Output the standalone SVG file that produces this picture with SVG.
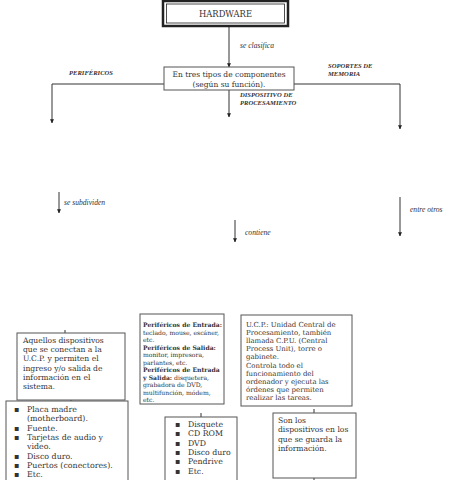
<svg xmlns="http://www.w3.org/2000/svg" width="449" height="480" viewBox="0 0 449 480">
<style>
.box{fill:#fff;stroke:#555;stroke-width:1}
.t{font-family:"DejaVu Serif","Liberation Serif",serif;fill:#333}
.lbl{font-family:"Liberation Serif","Times New Roman",serif;font-style:italic;fill:#333;font-size:7.6px}
.cap{font-family:"Liberation Serif","Times New Roman",serif;font-style:italic;font-weight:bold;fill:#333;font-size:6.6px}
.ln{stroke:#333;stroke-width:1;fill:none}
.b{font-weight:bold}
</style>
<defs>
<marker id="ah" viewBox="0 0 6 6" refX="5.5" refY="3" markerWidth="4" markerHeight="4" orient="auto">
<path d="M0,0 L6,3 L0,6 Z" fill="#222"/>
</marker>
</defs>
<rect width="449" height="480" fill="#fff"/>
<g id="connectors">
<line class="ln" x1="229" y1="26" x2="229" y2="67" marker-end="url(#ah)"/>
<polyline class="ln" points="164,84 52,84 52,123" marker-end="url(#ah)"/>
<polyline class="ln" points="294,84 400,84 400,129" marker-end="url(#ah)"/>
<line class="ln" x1="229" y1="90" x2="229" y2="117" marker-end="url(#ah)"/>
<line class="ln" x1="59" y1="192" x2="59" y2="213" marker-end="url(#ah)"/>
<line class="ln" x1="235" y1="220" x2="235" y2="242" marker-end="url(#ah)"/>
<line class="ln" x1="400" y1="197" x2="400" y2="236" marker-end="url(#ah)"/>
<line class="ln" x1="65" y1="330" x2="65" y2="333"/>
<line class="ln" x1="71" y1="398" x2="71" y2="401"/>
<line class="ln" x1="201" y1="413" x2="201" y2="417"/>
<line class="ln" x1="314" y1="409" x2="314" y2="413"/>
<line class="ln" x1="314" y1="478" x2="314" y2="481"/>
</g>
<g id="labels">
<text class="lbl" x="240" y="48">se clasifica</text>
<text class="cap" x="69" y="75">PERIFÉRICOS</text>
<text class="cap" x="328" y="68">SOPORTES DE</text>
<text class="cap" x="328" y="76">MEMORIA</text>
<text class="cap" x="240" y="97">DISPOSITIVO DE</text>
<text class="cap" x="240" y="105">PROCESAMIENTO</text>
<text class="lbl" x="64" y="205">se subdividen</text>
<text class="lbl" x="245" y="235">contiene</text>
<text class="lbl" x="410" y="212">entre otros</text>
</g>
<g id="hardware">
<rect x="163" y="1" width="125" height="25" fill="#fff" stroke="#222" stroke-width="2.5"/>
<rect x="166.5" y="4" width="118" height="19" fill="none" stroke="#222" stroke-width="0.8"/>
<text class="t" x="225.5" y="17" font-size="8.4" text-anchor="middle">HARDWARE</text>
</g>
<g id="tipos">
<rect class="box" x="164" y="67" width="130" height="23"/>
<text class="t" x="229" y="77" font-size="7.5" text-anchor="middle">En tres tipos de componentes</text>
<text class="t" x="229" y="87" font-size="7.5" text-anchor="middle">(según su función).</text>
</g>
<g id="perifericos-def">
<rect class="box" x="17" y="333" width="108" height="67"/>
<text class="t" font-size="7.6"><tspan x="23" y="343">Aquellos dispositivos</tspan><tspan x="23" y="352.2">que se conectan a la</tspan><tspan x="23" y="361.4">U.C.P. y permiten el</tspan><tspan x="23" y="370.6">ingreso y/o salida de</tspan><tspan x="23" y="379.8">información en el</tspan><tspan x="23" y="389">sistema.</tspan></text>
</g>
<g id="perifericos-tipos">
<rect class="box" x="140" y="314" width="84" height="90"/>
<text class="t" font-size="6.1"><tspan x="143" y="327" class="b">Periféricos de Entrada:</tspan><tspan x="143" y="334.5">teclado, mouse, escáner,</tspan><tspan x="143" y="342">etc.</tspan><tspan x="143" y="349.5" class="b">Periféricos de Salida:</tspan><tspan x="143" y="357">monitor, impresora,</tspan><tspan x="143" y="364.5">parlantes, etc.</tspan><tspan x="143" y="372" class="b">Periféricos de Entrada</tspan><tspan x="143" y="379.5" class="b">y Salida:</tspan><tspan> disquetera,</tspan><tspan x="143" y="387">grabadora de DVD,</tspan><tspan x="143" y="394.5">multifunción, módem,</tspan><tspan x="143" y="402">etc.</tspan></text>
</g>
<g id="ucp">
<rect class="box" x="241" y="315" width="111" height="91"/>
<text class="t" font-size="6.95"><tspan x="246" y="327">U.C.P.: Unidad Central de</tspan><tspan x="246" y="335.1">Procesamiento, también</tspan><tspan x="246" y="343.2">llamada C.P.U. (Central</tspan><tspan x="246" y="351.3">Process Unit), torre o</tspan><tspan x="246" y="359.4">gabinete.</tspan><tspan x="246" y="367.5">Controla todo el</tspan><tspan x="246" y="375.6">funcionamiento del</tspan><tspan x="246" y="383.7">ordenador y ejecuta las</tspan><tspan x="246" y="391.8">órdenes que permiten</tspan><tspan x="246" y="399.9">realizar las tareas.</tspan></text>
</g>
<g id="componentes">
<rect class="box" x="6" y="401" width="122" height="82"/>
<text class="t" font-size="7.9"><tspan x="14" y="412">▪</tspan><tspan x="27" y="412">Placa madre</tspan><tspan x="27" y="421.3">(motherboard).</tspan><tspan x="14" y="430.6">▪</tspan><tspan x="27" y="430.6">Fuente.</tspan><tspan x="14" y="439.9">▪</tspan><tspan x="27" y="439.9">Tarjetas de audio y</tspan><tspan x="27" y="449.2">video.</tspan><tspan x="14" y="458.5">▪</tspan><tspan x="27" y="458.5">Disco duro.</tspan><tspan x="14" y="467.8">▪</tspan><tspan x="27" y="467.8">Puertos (conectores).</tspan><tspan x="14" y="477.1">▪</tspan><tspan x="27" y="477.1">Etc.</tspan></text>
</g>
<g id="soportes-lista">
<rect class="box" x="165" y="417" width="72" height="66"/>
<text class="t" font-size="7.8"><tspan x="175" y="427">▪</tspan><tspan x="188" y="427">Disquete</tspan><tspan x="175" y="436.3">▪</tspan><tspan x="188" y="436.3">CD ROM</tspan><tspan x="175" y="445.6">▪</tspan><tspan x="188" y="445.6">DVD</tspan><tspan x="175" y="454.9">▪</tspan><tspan x="188" y="454.9">Disco duro</tspan><tspan x="175" y="464.2">▪</tspan><tspan x="188" y="464.2">Pendrive</tspan><tspan x="175" y="473.5">▪</tspan><tspan x="188" y="473.5">Etc.</tspan></text>
</g>
<g id="soportes-def">
<rect class="box" x="273" y="413" width="83" height="65"/>
<text class="t" font-size="7.6"><tspan x="278" y="423">Son los</tspan><tspan x="278" y="432.3">dispositivos en los</tspan><tspan x="278" y="441.6">que se guarda la</tspan><tspan x="278" y="450.9">información.</tspan></text>
</g>
</svg>
